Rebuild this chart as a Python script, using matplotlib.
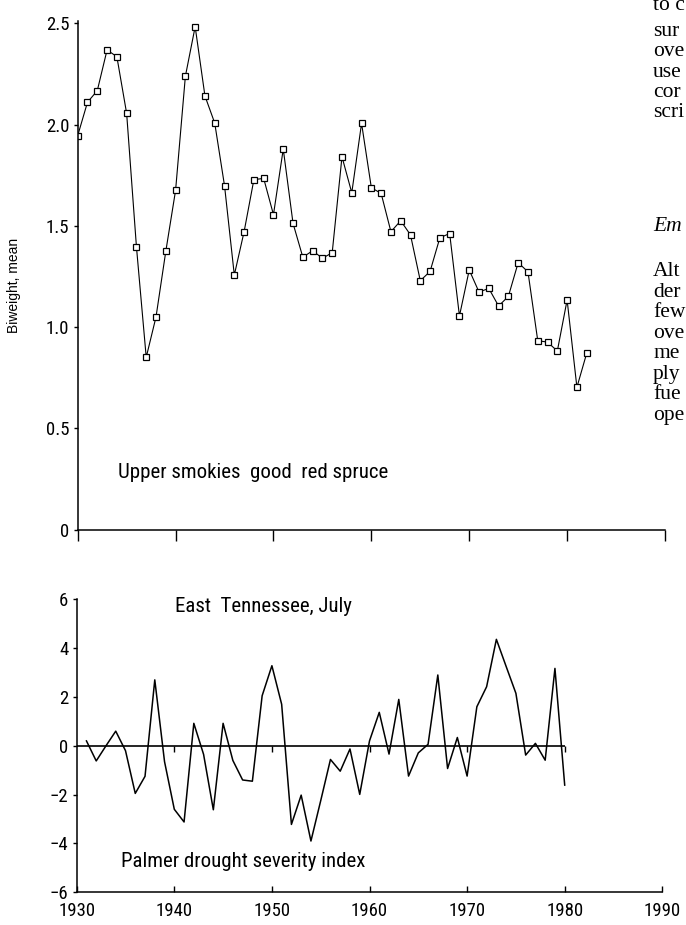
import numpy as np
import matplotlib
matplotlib.use("Agg")
import matplotlib.pyplot as plt
from matplotlib import font_manager

# ---------------- data ----------------
years_top = np.arange(1930, 1983)
biweight_mean = [1.945, 2.11, 2.167, 2.368, 2.335, 2.055, 1.397, 0.851, 1.05, 1.374,
                 1.675, 2.238, 2.483, 2.141, 2.007, 1.698, 1.257, 1.471, 1.728, 1.734,
                 1.555, 1.879, 1.512, 1.345, 1.377, 1.34, 1.367, 1.841, 1.663, 2.006,
                 1.688, 1.66, 1.471, 1.525, 1.455, 1.229, 1.275, 1.441, 1.462, 1.055,
                 1.282, 1.173, 1.191, 1.104, 1.152, 1.318, 1.273, 0.933, 0.926, 0.882,
                 1.134, 0.703, 0.871]

years_pdsi = np.arange(1931, 1981)
pdsi = [0.2, -0.62, 0.0, 0.6, -0.2, -1.95, -1.25, 2.7, -0.65, -2.6,
        -3.12, 0.92, -0.35, -2.62, 0.92, -0.6, -1.4, -1.45, 2.05, 3.28,
        1.7, -3.22, -2.02, -3.9, -2.25, -0.56, -1.04, -0.13, -1.99, 0.2,
        1.37, -0.34, 1.9, -1.24, -0.29, 0.06, 2.9, -0.93, 0.34, -1.24,
        1.6, 2.42, 4.36, 3.25, 2.15, -0.38, 0.1, -0.59, 3.17, -1.61]

decade_ticks = [1930, 1940, 1950, 1960, 1970, 1980, 1990]
decade_labels = ["1930", "1940", "1950", "1960", "1970", "1980", "1990"]
top_yticks = [0, 0.5, 1.0, 1.5, 2.0, 2.5]
top_ylabels = ["0", "0.5", "1.0", "1.5", "2.0", "2.5"]
bot_yticks = [-6, -4, -2, 0, 2, 4, 6]
bot_ylabels = ["\u22126", "\u22124", "\u22122", "0", "2", "4", "6"]
zero_line_span = (1930, 1980)

page_text = [("to c", 10, False), ("sur", 36, False), ("ove", 56, False),
             ("use", 77, False), ("cor", 97, False), ("scri", 117, False),
             ("Em", 231, True), ("Alt", 276, False), ("der", 297, False),
             ("few", 317, False), ("ove", 338, False), ("me", 358, False),
             ("ply", 379, False), ("fue", 399, False), ("ope", 420, False)]

# ---------------- fonts ----------------
fonts = font_manager.fontManager.ttflist
cond_props = None
for name, stretch in [("Roboto Condensed", None), ("Liberation Sans Narrow", None),
                      ("DejaVu Sans", "condensed"), ("Open Sans", "condensed"),
                      ("Noto Sans", "condensed")]:
    for f in fonts:
        if f.name == name and (stretch is None or f.stretch in ("condensed", 75, "semi-condensed")):
            cond_props = (name, stretch or "normal")
            break
    if cond_props:
        break
if cond_props:
    cond = dict(fontfamily=[cond_props[0], "DejaVu Sans"], fontstretch=cond_props[1])
    tick_fs, ann_fs = 13.5, 15
else:
    cond = dict(fontfamily=["Liberation Sans", "DejaVu Sans"])
    tick_fs, ann_fs = 12, 13
sans = ["Liberation Sans", "DejaVu Sans"]

# ---------------- figure ----------------
W, H = 686, 925
fig = plt.figure(figsize=(W / 100, H / 100), dpi=100)
fig.patch.set_facecolor("white")

def px_axes(left, right, bottom, top):
    return fig.add_axes([left / W, 1 - bottom / H, (right - left) / W, (bottom - top) / H])

# ---- top panel ----
ax1 = px_axes(77.7, 665, 529.7, 21.2)
ax1.plot(years_top, biweight_mean, color="black", lw=0.8, marker="s", ms=4.0,
         mfc="white", mec="black", mew=0.9)
ax1.set_xlim(1930, 1990)
ax1.set_ylim(0, 2.51)
ax1.set_xticks(decade_ticks)
ax1.set_xticklabels([])
ax1.set_yticks(top_yticks)
ax1.set_yticklabels(top_ylabels, fontsize=tick_fs, **cond)
ax1.tick_params(axis="x", direction="out", length=8, width=1.0, color="black")
ax1.tick_params(axis="y", direction="out", length=3, width=1.0, pad=3)
for s in ("top", "right"):
    ax1.spines[s].set_visible(False)
for s in ("left", "bottom"):
    ax1.spines[s].set_linewidth(1.1)
ax1.set_ylabel("Biweight, mean", fontfamily=sans, fontsize=10)
ax1.yaxis.set_label_coords(-0.097, 0.48)
ax1.text(0.0686, 0.112, "Upper smokies  good  red spruce", transform=ax1.transAxes,
         ha="left", va="center", fontsize=ann_fs, **cond)

# ---- bottom panel ----
ax2 = px_axes(76.7, 662.3, 892.3, 599.3)
ax2.hlines(0, zero_line_span[0], zero_line_span[1], color="black", lw=1.2)
ax2.vlines(decade_ticks[1:6], -0.25, 0, color="black", lw=1.0)
ax2.plot(years_pdsi, pdsi, color="black", lw=1.1)
ax2.set_xlim(1930, 1990)
ax2.set_ylim(-6, 6)
ax2.set_xticks(decade_ticks)
ax2.set_xticklabels(decade_labels, fontsize=tick_fs, **cond)
ax2.set_yticks(bot_yticks)
ax2.set_yticklabels(bot_ylabels, fontsize=tick_fs, **cond)
ax2.tick_params(axis="x", direction="in", length=4, width=1.0, pad=7)
ax2.tick_params(axis="y", direction="out", length=3, width=1.0, pad=3)
for s in ("top", "right"):
    ax2.spines[s].set_visible(False)
for s in ("left", "bottom"):
    ax2.spines[s].set_linewidth(1.1)
ax2.text(0.168, 0.975, "East  Tennessee, July", transform=ax2.transAxes,
         ha="left", va="center", fontsize=ann_fs, **cond)
ax2.text(0.0751, 0.104, "Palmer drought severity index", transform=ax2.transAxes,
         ha="left", va="center", fontsize=ann_fs, **cond)

# ---- book page text cut at right edge ----
for word, ybase, ital in page_text:
    fig.text(653 / W, 1 - ybase / H, word, ha="left", va="baseline",
             fontfamily=["Liberation Serif", "DejaVu Serif"], fontsize=15.5,
             fontstyle="italic" if ital else "normal")

fig.savefig("out.png", dpi=100)
